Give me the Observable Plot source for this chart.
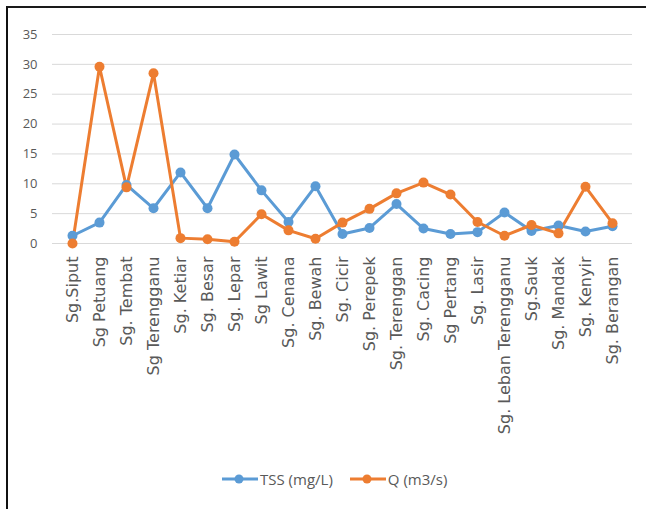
<!DOCTYPE html>
<html>
<head>
<meta charset="utf-8">
<script src="https://cdn.jsdelivr.net/npm/d3@7"></script>
<script src="https://cdn.jsdelivr.net/npm/@observablehq/plot@0.6"></script>
<style>
  html, body { margin: 0; padding: 0; background: #fff; }
  body { width: 646px; height: 509px; position: relative; overflow: hidden; font-family: "DejaVu Sans", sans-serif; }
  #frame { position: absolute; left: 6px; top: 6px; width: 660px; height: 520px;
           border-top: 2px solid #1a1a1a; border-left: 2px solid #111; box-sizing: border-box; }
  #chart { position: absolute; left: 0; top: 0; }
  #legend { position: absolute; left: 221px; top: 469px; display: flex; align-items: center;
            font-family: "Open Sans", sans-serif; font-size: 15px; color: #595959; }
  #legend .item { display: flex; align-items: center; margin-right: 16px; }
  #legend svg { display: block; margin-right: 1px; }
</style>
</head>
<body>
<div id="frame"></div>
<div id="chart"></div>
<div id="legend"></div>
<script>
// River sampling stations along the x axis
const sites = [
  "Sg.Siput", "Sg Petuang", "Sg. Tembat", "Sg Terengganu", "Sg. Ketiar",
  "Sg. Besar", "Sg. Lepar", "Sg Lawit", "Sg. Cenana", "Sg. Bewah",
  "Sg. Cicir", "Sg. Perepek", "Sg. Terenggan", "Sg. Cacing", "Sg Pertang",
  "Sg. Lasir", "Sg. Leban Terengganu", "Sg.Sauk", "Sg. Mandak", "Sg. Kenyir",
  "Sg. Berangan"
];

// Total suspended solids (mg/L)
const tss = [1.3, 3.5, 9.8, 5.9, 11.9, 5.9, 14.9, 8.9, 3.6, 9.6,
             1.6, 2.6, 6.6, 2.5, 1.6, 1.9, 5.2, 2.1, 3.0, 2.0, 2.9];

// Discharge (m3/s)
const discharge = [0, 29.6, 9.4, 28.5, 0.9, 0.7, 0.3, 4.9, 2.2, 0.8,
                   3.5, 5.8, 8.4, 10.2, 8.2, 3.6, 1.3, 3.1, 1.7, 9.5, 3.4];

const seriesNames = ["TSS (mg/L)", "Q (m3/s)"];
const seriesColors = ["#5b9bd5", "#ed7d31"];
const yTicks = [0, 5, 10, 15, 20, 25, 30, 35];

const rows = [
  ...sites.map((site, i) => ({site, series: seriesNames[0], value: tss[i]})),
  ...sites.map((site, i) => ({site, series: seriesNames[1], value: discharge[i]}))
];

const chart = Plot.plot({
  width: 646,
  height: 460,
  marginLeft: 52,
  marginRight: 14,
  marginTop: 34,
  marginBottom: 217,
  style: {background: "transparent", color: "#595959", fontFamily: "'Open Sans', sans-serif"},
  x: {type: "point", domain: sites, padding: 0.5, label: null},
  y: {domain: [0, 35], label: null},
  color: {domain: seriesNames, range: seriesColors},
  marks: [
    Plot.gridY(yTicks, {stroke: "#d9d9d9", strokeOpacity: 1, strokeWidth: 1}),
    Plot.axisY(yTicks, {tickSize: 0, tickPadding: 15, fontSize: 13, fill: "#595959", label: null}),
    Plot.axisX({tickSize: 0, tickPadding: 13, tickRotate: -90, fontSize: 16,
                fontFamily: "'DejaVu Sans', sans-serif", fill: "#595959", label: null}),
    Plot.line(rows, {x: "site", y: "value", z: "series", stroke: "series", strokeWidth: 3}),
    Plot.dot(rows, {x: "site", y: "value", fill: "series", r: 5})
  ]
});
document.getElementById("chart").append(chart);

// Legend beneath the plot
const legend = d3.select("#legend");
seriesNames.forEach((name, i) => {
  const item = legend.append("div").attr("class", "item");
  const sw = item.append("svg").attr("width", 38).attr("height", 12);
  sw.append("line").attr("x1", 1).attr("x2", 37).attr("y1", 6).attr("y2", 6)
    .attr("stroke", seriesColors[i]).attr("stroke-width", 3);
  sw.append("circle").attr("cx", 18).attr("cy", 6).attr("r", 4.5).attr("fill", seriesColors[i]);
  item.append("span").text(name);
});
</script>
</body>
</html>
